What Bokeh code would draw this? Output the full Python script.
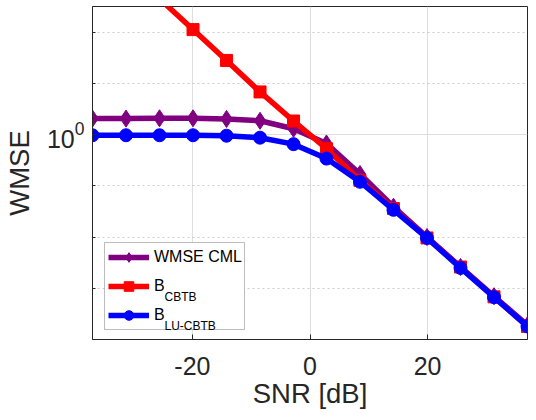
from bokeh.plotting import figure
from bokeh.models import (FixedTicker, Legend, LegendItem, Label, Range1d, ColumnDataSource,
                          BoxAnnotation)
from bokeh.embed import file_html
from bokeh.resources import INLINE

# ---- data ----
snr = [-37, -31.3, -25.6, -19.9, -14.2, -8.5, -2.8, 2.8, 8.5, 14.2, 19.9, 25.6, 31.3, 37]
wmse_cml = [2.05, 2.05, 2.08, 2.08, 2.02, 1.86, 1.30, 0.67, 0.17, 0.039, 0.0100, 0.0026, 0.00070, 0.00019]
b_cbtb = [7300, 1800, 450, 112, 28, 6.8, 1.84, 0.53, 0.128, 0.036, 0.0096, 0.0026, 0.00068, 0.00018]
b_lu_cbtb = [0.97, 0.97, 0.97, 0.97, 0.95, 0.87, 0.65, 0.34, 0.12, 0.034, 0.0096, 0.0025, 0.00067, 0.00018]

x_min, x_max = -37, 37
y_min, y_max = 1e-4, 10 ** 2.5
x_ticks = [-20, 0, 20]
y_major_ticks = [1]
y_minor_ticks = [1e-3, 1e-2, 1e-1, 1e1, 1e2]
legend_labels = ["WMSE CML", "B", "B"]
legend_subscripts = ["", "CBTB", "LU-CBTB"]
x_label = "SNR [dB]"
y_label = "WMSE"

AX = "#262626"
FONT = "Liberation Sans"

p = figure(width=528, height=412, output_backend="svg", toolbar_location=None,
           x_range=Range1d(x_min, x_max), y_range=Range1d(y_min, y_max),
           y_axis_type="log",
           min_border_left=86, min_border_right=1, min_border_top=6, min_border_bottom=73)
p.background_fill_color = "white"
p.border_fill_color = "white"
p.outline_line_color = AX
p.outline_line_width = 1

xt = FixedTicker(ticks=x_ticks)
yt = FixedTicker(ticks=y_major_ticks, minor_ticks=y_minor_ticks)
p.xaxis.ticker = xt
p.yaxis.ticker = yt
p.xgrid.ticker = xt
p.ygrid.ticker = yt
p.xaxis.major_label_overrides = {t: str(t) for t in x_ticks}

for ax in [p.xaxis[0], p.yaxis[0]]:
    ax.axis_line_color = AX
    ax.major_tick_line_color = AX
    ax.minor_tick_line_color = AX
    ax.major_tick_in = 5
    ax.major_tick_out = 0
    ax.minor_tick_in = 3
    ax.minor_tick_out = 0
    ax.major_label_text_font = FONT
    ax.major_label_text_font_size = "25px"
    ax.major_label_text_color = AX
    ax.axis_label_text_font = FONT
    ax.axis_label_text_font_size = "27.5px"
    ax.axis_label_text_font_style = "normal"
    ax.axis_label_text_color = AX
p.xaxis.minor_tick_line_color = None
p.xaxis.axis_label = x_label
p.yaxis.axis_label = y_label
p.xaxis.major_label_standoff = 17
p.xaxis.axis_label_standoff = 0
p.yaxis.major_label_standoff = 8
p.yaxis.axis_label_standoff = 9

p.xgrid.grid_line_color = "#dedede"
p.ygrid.grid_line_color = "#dedede"
p.ygrid.minor_grid_line_color = "#cccccc"
p.ygrid.minor_grid_line_dash = "2 3"

src = ColumnDataSource(dict(snr=snr, cml=wmse_cml, cbtb=b_cbtb, lu=b_lu_cbtb))

LW = 5.5
l1 = p.line("snr", "cml", source=src, line_color="#800080", line_width=LW)
m1 = p.scatter("snr", "cml", source=src, marker="diamond", size=17,
               fill_color="#800080", line_color="#800080")
l2 = p.line("snr", "cbtb", source=src, line_color="#ff0000", line_width=LW)
m2 = p.scatter("snr", "cbtb", source=src, marker="square", size=12,
               fill_color="#ff0000", line_color="#ff0000")
l3 = p.line("snr", "lu", source=src, line_color="#0000ff", line_width=LW)
m3 = p.scatter("snr", "lu", source=src, marker="circle", size=13,
               fill_color="#0000ff", line_color="#0000ff")

# legend box (white, covers the grid)
LX, LY, BW, BH = 12, 10, 140, 87
p.add_layout(BoxAnnotation(left=LX, right=LX + BW, bottom=LY, top=LY + BH,
                           left_units="screen", right_units="screen",
                           bottom_units="screen", top_units="screen",
                           fill_color="white", fill_alpha=1,
                           line_color=AX, line_width=1, level="underlay"))

PAD, GW, LH, SP, STAND = 1, 41, 24, 5, 5
H = 2 * PAD + 3 * LH + 2 * SP
LEG_X, LEG_Y = LX + 4, LY + BH - H - 1
rends = [(l1, m1), (l2, m2), (l3, m3)]
items = [LegendItem(label=legend_labels[i], renderers=list(rends[i])) for i in range(3)]
legend = Legend(items=items, location=(LEG_X, LEG_Y), margin=0,
                label_text_font=FONT, label_text_font_size="16px", label_text_color="black",
                glyph_width=GW, glyph_height=LH, label_height=LH, label_standoff=STAND,
                padding=PAD, spacing=SP, border_line_color=None,
                background_fill_alpha=0)
p.add_layout(legend)

for i, sub in enumerate(legend_subscripts):
    if not sub:
        continue
    row_c = LEG_Y + H - (PAD + LH / 2 + i * (LH + SP))
    p.add_layout(Label(x=x_min, y=y_min, x_offset=LEG_X + PAD + GW + STAND + 9,
                       y_offset=row_c - 11, text=sub,
                       text_font=FONT, text_font_size="12px", text_color="black",
                       text_baseline="alphabetic", text_align="left"))

open("out.html", "w").write(file_html(p, INLINE))
